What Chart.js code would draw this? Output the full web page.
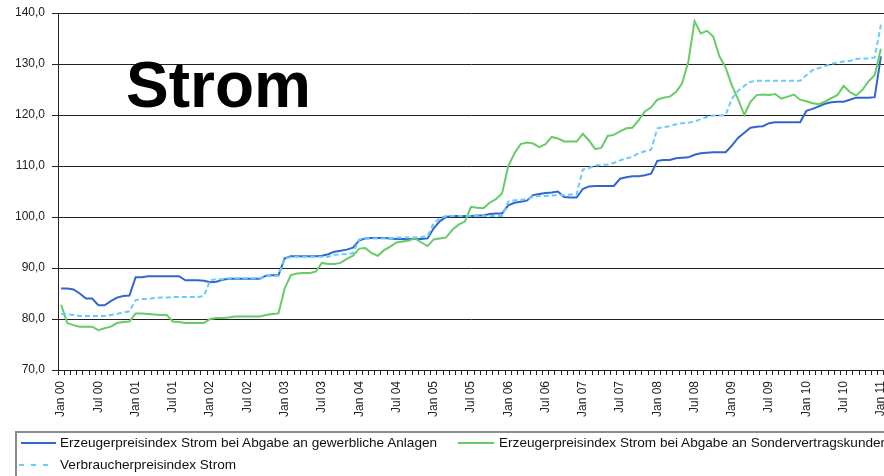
<!DOCTYPE html>
<html><head><meta charset="utf-8">
<script src="https://cdn.jsdelivr.net/npm/chart.js@4/dist/chart.umd.min.js"></script>
<style>
html,body{margin:0;padding:0;background:#fff;overflow:hidden;width:884px;height:476px;}
#wrap{position:relative;width:884px;height:476px;}
#c{position:absolute;left:0;top:0;}
#title{position:absolute;left:126px;top:53px;font:bold 64px "Liberation Sans",Arial,sans-serif;line-height:64px;color:#000;white-space:nowrap;}
#legend{position:absolute;left:15px;top:431px;width:900px;height:80px;border:2px solid #8c8c8c;border-right:none;border-bottom:none;}
.lt{position:absolute;font:13.6px "Liberation Sans",Arial,sans-serif;line-height:16px;color:#111;white-space:nowrap;}
.ls{position:absolute;}
</style></head>
<body><div id="wrap">
<canvas id="c" width="884" height="476"></canvas>
<div id="title">Strom</div>
<div id="legend"></div>
</div>
<script>
const monthNames = ['Jan','Feb','Mrz','Apr','Mai','Jun','Jul','Aug','Sep','Okt','Nov','Dez'];
const yearLabels = ['00','01','02','03','04','05','06','07','08','09','10','11'];
const seriesNames = [
  'Erzeugerpreisindex Strom bei Abgabe an gewerbliche Anlagen',
  'Erzeugerpreisindex Strom bei Abgabe an Sondervertragskunden',
  'Verbraucherpreisindex Strom'
];
const yTicks = [70,80,90,100,110,120,130,140];

const gewerblich = [
  86.0,86.0,85.8,85.0,84.0,84.0,82.7,82.7,83.5,84.2,84.5,84.6,
  88.2,88.2,88.4,88.4,88.4,88.4,88.4,88.4,87.6,87.6,87.6,87.5,
  87.2,87.3,87.7,87.9,87.9,87.9,87.9,87.9,87.9,88.5,88.6,88.6,
  91.9,92.3,92.3,92.3,92.3,92.3,92.4,92.7,93.2,93.4,93.6,94.0,
  95.4,95.8,95.9,95.9,95.9,95.8,95.7,95.7,95.7,95.7,95.7,95.8,
  97.8,99.2,100.0,100.2,100.2,100.2,100.2,100.3,100.3,100.6,100.7,100.7,
  102.3,102.8,103.0,103.2,104.3,104.5,104.7,104.8,105.0,103.9,103.8,103.8,
  105.5,106.0,106.1,106.1,106.1,106.1,107.5,107.8,108.0,108.0,108.2,108.5,
  111.0,111.2,111.2,111.5,111.6,111.7,112.2,112.5,112.6,112.7,112.7,112.7,
  114.0,115.5,116.5,117.5,117.7,117.8,118.4,118.6,118.6,118.6,118.6,118.6,
  120.8,121.2,121.7,122.2,122.5,122.6,122.6,123.0,123.4,123.4,123.4,123.5,
  131.5
];
const sonder = [
  82.8,79.2,78.8,78.5,78.5,78.5,77.8,78.2,78.5,79.2,79.4,79.5,
  81.1,81.1,81.0,80.9,80.8,80.8,79.5,79.4,79.2,79.2,79.2,79.2,
  80.0,80.2,80.2,80.3,80.5,80.5,80.5,80.5,80.5,80.8,81.0,81.1,
  86.0,88.6,88.9,89.0,89.0,89.3,91.0,90.8,90.8,91.0,91.8,92.4,
  93.8,93.9,92.9,92.4,93.5,94.2,95.0,95.2,95.4,95.8,95.0,94.3,
  95.6,95.8,96.0,97.5,98.5,99.1,102.0,101.8,101.7,102.8,103.5,104.6,
  110.0,112.5,114.3,114.6,114.4,113.7,114.3,115.7,115.4,114.8,114.8,114.8,
  116.3,115.0,113.3,113.6,115.9,116.1,116.8,117.4,117.5,119.0,120.7,121.5,
  123.0,123.4,123.6,124.5,126.2,130.5,138.4,136.0,136.5,135.4,131.5,129.3,
  125.8,123.1,120.0,122.6,123.9,124.0,123.9,124.1,123.2,123.6,124.0,123.0,
  122.7,122.3,122.1,122.6,123.3,123.9,125.7,124.5,123.8,124.9,126.6,127.8,
  133.0
];
const verbraucher = [
  81.0,80.9,80.8,80.6,80.6,80.6,80.6,80.6,80.8,81.0,81.3,81.5,
  83.7,83.9,83.9,84.1,84.2,84.2,84.3,84.3,84.3,84.3,84.3,84.5,
  87.6,87.8,87.8,88.0,88.0,88.0,88.0,88.0,88.0,88.4,88.5,88.5,
  91.9,92.1,92.2,92.2,92.2,92.2,92.2,92.2,92.6,92.7,92.7,92.9,
  95.6,95.8,95.8,95.8,95.8,95.8,96.0,96.0,96.0,96.0,96.1,96.2,
  98.8,99.8,100.2,100.2,100.2,100.2,100.2,100.2,100.2,100.2,100.2,100.2,
  103.0,103.3,103.4,103.5,104.0,104.1,104.1,104.2,104.3,104.3,104.4,104.4,
  109.3,109.6,110.1,110.2,110.3,110.6,111.1,111.5,111.8,112.5,112.9,113.2,
  117.4,117.6,117.8,118.2,118.4,118.5,118.7,119.2,119.6,119.9,119.9,120.0,
  123.2,124.7,125.7,126.5,126.7,126.7,126.7,126.7,126.7,126.7,126.7,126.7,
  127.8,128.8,129.2,129.6,130.0,130.3,130.5,130.6,131.0,131.1,131.1,131.3,
  137.7
];

const categories = [];
for (let y = 0; y < yearLabels.length; y++) {
  for (let m = 0; m < 12; m++) {
    if (categories.length < gewerblich.length) categories.push(monthNames[m] + ' ' + yearLabels[y]);
  }
}

const colors = ['#3366cc', '#66cc66', '#66ccff'];
const FONT = '"Liberation Sans", Arial, sans-serif';

new Chart(document.getElementById('c'), {
  type: 'line',
  data: {
    labels: categories,
    datasets: [
      {label: seriesNames[0], data: gewerblich, borderColor: colors[0], borderWidth: 2, pointRadius: 0, tension: 0, fill: false, order: 2},
      {label: seriesNames[1], data: sonder, borderColor: colors[1], borderWidth: 2, pointRadius: 0, tension: 0, fill: false, order: 1},
      {label: seriesNames[2], data: verbraucher, borderColor: colors[2], borderWidth: 2, borderDash: [5,3], pointRadius: 0, tension: 0, fill: false, order: 0}
    ]
  },
  options: {
    responsive: false,
    animation: false,
    devicePixelRatio: 1,
    layout: {padding: {top: 13, left: 0, right: 0, bottom: 0}},
    plugins: {legend: {display: false}, tooltip: {enabled: false}, title: {display: false}},
    scales: {
      x: {
        type: 'category',
        offset: true,
        grid: {display: true, drawOnChartArea: false, drawTicks: true, tickLength: 5, offset: true, color: '#222', lineWidth: 1},
        border: {display: true, color: '#222', width: 1},
        ticks: {
          autoSkip: false, minRotation: 90, maxRotation: 90, padding: 6,
          color: '#222', font: {family: FONT, size: 12},
          callback: function(v, i) { return i % 6 === 0 ? categories[i] : ''; }
        },
        afterFit: function(s) { s.height = 106; s.paddingLeft = 0; s.paddingRight = 0; }
      },
      y: {
        min: 70, max: 140,
        afterBuildTicks: function(s) { s.ticks = yTicks.map(v => ({value: v})); },
        grid: {color: '#222', lineWidth: 1, tickLength: 6, drawTicks: true},
        border: {display: true, color: '#222', width: 1},
        ticks: {
          padding: 7, color: '#222', font: {family: FONT, size: 12},
          callback: function(v) { return v.toFixed(1).replace('.', ','); }
        },
        afterFit: function(s) { s.width = 58; s.paddingTop = 0; s.paddingBottom = 0; }
      }
    }
  }
});

// HTML legend
const legend = document.getElementById('legend');
const items = [
  {y: 12, sx: 4, sw: 35, text: seriesNames[0], color: colors[0], dash: null, tx: 43},
  {y: 12, sx: 441, sw: 36, text: seriesNames[1], color: colors[1], dash: null, tx: 482},
  {y: 34, sx: 2, sw: 32, text: seriesNames[2], color: colors[2], dash: '5,7', tx: 43}
];
items.forEach(it => {
  const svg = document.createElementNS('http://www.w3.org/2000/svg', 'svg');
  svg.setAttribute('class', 'ls');
  svg.setAttribute('width', it.sw + 2);
  svg.setAttribute('height', 6);
  svg.style.left = (it.sx - 2) + 'px';
  svg.style.top = (it.y - 3 - 2) + 'px';
  const ln = document.createElementNS('http://www.w3.org/2000/svg', 'line');
  ln.setAttribute('x1', 2); ln.setAttribute('x2', it.sw + 2);
  ln.setAttribute('y1', 3); ln.setAttribute('y2', 3);
  ln.setAttribute('stroke', it.color); ln.setAttribute('stroke-width', 2);
  if (it.dash) ln.setAttribute('stroke-dasharray', it.dash);
  svg.appendChild(ln);
  legend.appendChild(svg);
  const t = document.createElement('div');
  t.className = 'lt';
  t.textContent = it.text;
  t.style.left = it.tx + 'px';
  t.style.top = (it.y - 2 - 8) + 'px';
  legend.appendChild(t);
});
</script>
</body></html>
